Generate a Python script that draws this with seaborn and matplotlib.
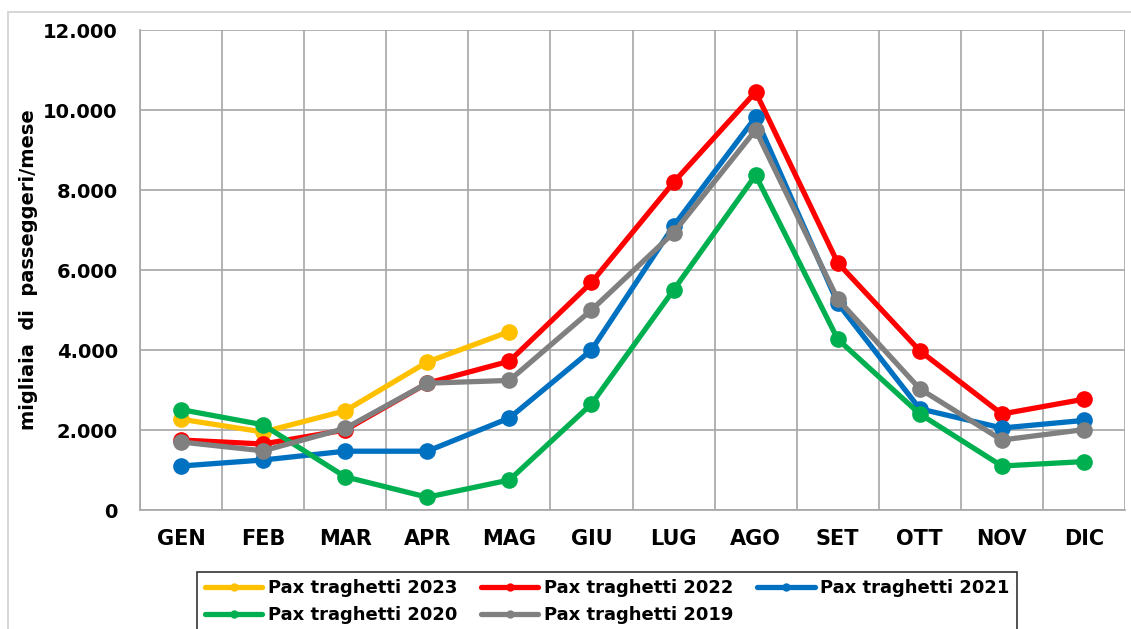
import matplotlib
matplotlib.use("Agg")
import matplotlib.pyplot as plt
from matplotlib.patches import Rectangle
from matplotlib.ticker import FuncFormatter, MultipleLocator
import seaborn as sb
import numpy as np
import pandas as pd

# mesi (etichette asse x)
mesi = ["GEN", "FEB", "MAR", "APR", "MAG", "GIU", "LUG", "AGO", "SET", "OTT", "NOV", "DIC"]

# migliaia di passeggeri / mese
pax_2023 = [2270, 1950, 2480, 3700, 4460]
pax_2022 = [1750, 1650, 2000, 3170, 3720, 5690, 8190, 10450, 6180, 3980, 2400, 2770]
pax_2021 = [1100, 1250, 1470, 1470, 2300, 4000, 7100, 9820, 5170, 2530, 2050, 2240]
pax_2020 = [2510, 2130, 830, 320, 750, 2650, 5500, 8370, 4270, 2400, 1100, 1210]
pax_2019 = [1700, 1480, 2040, 3170, 3240, 5000, 6930, 9500, 5270, 3030, 1750, 2010]

serie = ["Pax traghetti 2023", "Pax traghetti 2022", "Pax traghetti 2021",
         "Pax traghetti 2020", "Pax traghetti 2019"]
valori = [pax_2023, pax_2022, pax_2021, pax_2020, pax_2019]
colori = ["#FFC000", "#FF0000", "#0070C0", "#00B050", "#808080"]

rows = []
for nome, vals in zip(serie, valori):
    for i, v in enumerate(vals):
        rows.append((nome, i, v))
df = pd.DataFrame(rows, columns=["serie", "mese", "pax"])

sb.set_style("white")
plt.rcParams["font.family"] = ["DejaVu Sans"]
plt.rcParams["text.color"] = "black"
plt.rcParams["axes.labelcolor"] = "black"
plt.rcParams["xtick.labelcolor"] = "black"
plt.rcParams["ytick.labelcolor"] = "black"
narrow = ["DejaVu Sans Condensed", "Liberation Sans Narrow", "DejaVu Sans"]

fig = plt.figure(figsize=(11.31, 6.29), dpi=100)
W, H = 1131, 629
ax = fig.add_axes([140 / W, 1 - 510 / H, 985 / W, 480 / H])

# bordo esterno del grafico
fig.patches.append(Rectangle((8 / W, -0.1), 1.2, 1 - 12 / H + 0.1, transform=fig.transFigure,
                             fill=False, edgecolor="#D0D0D0", linewidth=1.2))

handles = {}
for nome, col in zip(serie, colori):
    d = df[df["serie"] == nome]
    sb.lineplot(data=d, x="mese", y="pax", ax=ax, color=col, linewidth=3.8,
                marker="o", markersize=12, markeredgewidth=0, label=nome,
                legend=False, sort=False)
    handles[nome] = ax.lines[-1]

ax.set_xlim(-0.5, len(mesi) - 0.5)
ax.set_ylim(0, 12000)
ax.yaxis.set_major_locator(MultipleLocator(2000))
ax.yaxis.set_major_formatter(FuncFormatter(lambda v, p: f"{int(v):,}".replace(",", ".")))
ax.set_xticks(np.arange(len(mesi)))
ax.set_xticks(np.arange(len(mesi) + 1) - 0.5, minor=True)
ax.set_xticklabels(mesi, fontsize=15, fontweight="bold", family=narrow)
for t in ax.get_yticklabels():
    t.set_fontsize(14)
    t.set_fontweight("heavy")

ax.grid(True, axis="y", which="major", color="#A6A6A6", linewidth=1.2)
ax.grid(True, axis="x", which="minor", color="#A6A6A6", linewidth=1.2)
ax.grid(False, axis="x", which="major")
ax.set_axisbelow(True)
ax.tick_params(axis="x", which="major", length=0, pad=14)
ax.tick_params(axis="x", which="minor", length=6, color="#A6A6A6", width=1.2, direction="out")
ax.tick_params(axis="y", which="major", length=6, color="#A6A6A6", width=1.2, direction="out", pad=10)
for s in ["top", "right"]:
    ax.spines[s].set_visible(False)
for s in ["left", "bottom"]:
    ax.spines[s].set_color("#A6A6A6")
    ax.spines[s].set_linewidth(1.2)

ax.set_xlabel("")
ax.set_ylabel("migliaia  di  passeggeri/mese", fontsize=14, fontweight="bold")
ax.yaxis.set_label_coords(-0.104, 0.5)

# ordine in righe: 2023 2022 2021 / 2020 2019
ordine = [serie[0], serie[3], serie[1], serie[4], serie[2]]
leg = fig.legend([handles[n] for n in ordine], ordine, loc="upper center",
                 bbox_to_anchor=(607 / W, 1 - 572 / H), borderaxespad=0, ncol=3,
                 frameon=True, fancybox=False, edgecolor="black", handlelength=3.2,
                 columnspacing=1.3, handletextpad=0.3, labelspacing=0.5,
                 borderpad=0.4, prop={"family": narrow, "weight": "bold", "size": 13},
                 markerscale=0.5)
leg.get_frame().set_linewidth(1.2)

fig.savefig("out.png", dpi=100)
